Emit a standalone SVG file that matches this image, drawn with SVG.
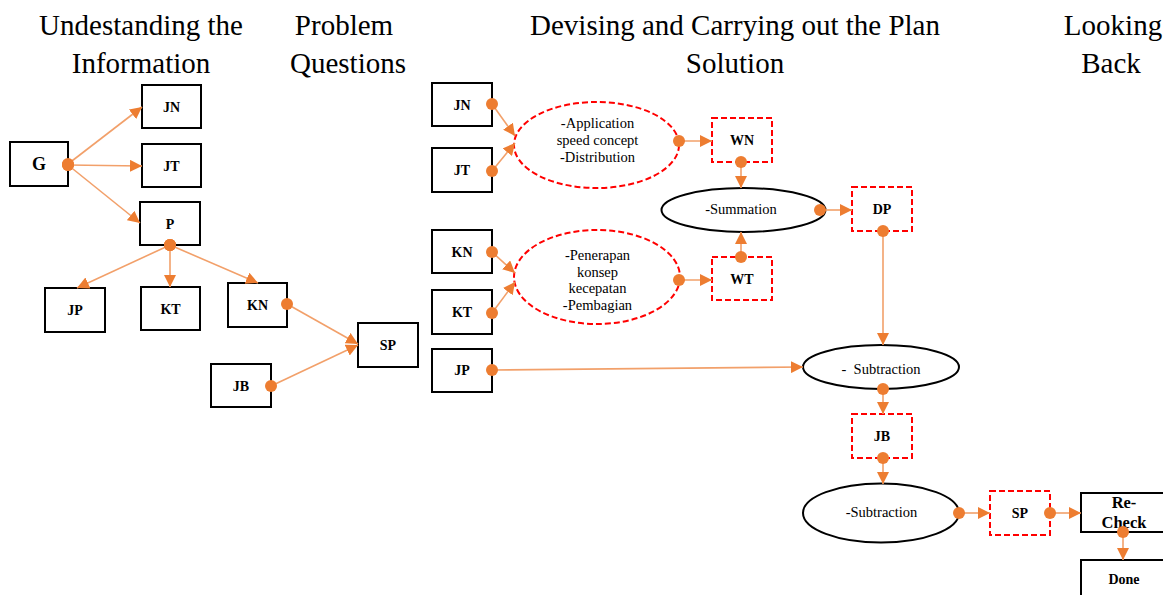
<svg xmlns="http://www.w3.org/2000/svg" width="1163" height="595" viewBox="0 0 1163 595">
  <style>
    .title { font-family: "Liberation Serif", "Times New Roman", serif; font-size: 29px; fill: #000; text-anchor: middle; }
    .box { fill: #fff; stroke: #000; stroke-width: 2; }
    .dbox { fill: #fff; stroke: #ff0000; stroke-width: 2; stroke-dasharray: 6 3; }
    .oval { fill: #fff; stroke: #000; stroke-width: 2; }
    .doval { fill: #fff; stroke: #ff0000; stroke-width: 2; stroke-dasharray: 6 3; }
    .lbl { font-family: "Liberation Serif", "Times New Roman", serif; font-size: 14px; font-weight: bold; fill: #000; text-anchor: middle; }
    .txt { font-family: "Liberation Serif", "Times New Roman", serif; font-size: 14.5px; fill: #000; text-anchor: middle; }
    .link { fill: none; stroke: #F2A06A; stroke-width: 1.6; marker-start: url(#dot); marker-end: url(#arrow); }
  </style>
  <defs>
    <marker id="arrow" markerUnits="userSpaceOnUse" markerWidth="14" markerHeight="12" refX="12" refY="6" orient="auto">
      <path d="M0,0 L12,6 L0,12 Z" fill="#ED7D31"/>
    </marker>
    <marker id="dot" markerUnits="userSpaceOnUse" markerWidth="14" markerHeight="14" refX="7" refY="7">
      <circle cx="7" cy="7" r="6" fill="#ED7D31"/>
    </marker>
  </defs>
  <rect width="1163" height="595" fill="#fff"/>

  <!-- column headings -->
  <g id="headings">
    <text class="title" x="141" y="35">Undestanding the</text>
    <text class="title" x="141" y="73">Information</text>
    <text class="title" x="344" y="35">Problem</text>
    <text class="title" x="348" y="73">Questions</text>
    <text class="title" x="735" y="35">Devising and Carrying out the Plan</text>
    <text class="title" x="735" y="73">Solution</text>
    <text class="title" x="1113" y="35">Looking</text>
    <text class="title" x="1111" y="73">Back</text>
  </g>

  <!-- understanding the information -->
  <g id="node-G"><rect class="box" x="10" y="142" width="58" height="44"/><text class="lbl" x="39" y="170" style="font-size:18px">G</text></g>
  <g id="node-JN1"><rect class="box" x="142" y="85" width="59" height="43"/><text class="lbl" x="171.5" y="111.5">JN</text></g>
  <g id="node-JT1"><rect class="box" x="142" y="144" width="59" height="43"/><text class="lbl" x="171.5" y="170.5">JT</text></g>
  <g id="node-P"><rect class="box" x="140" y="202" width="60" height="43"/><text class="lbl" x="170" y="228.5">P</text></g>
  <g id="node-JP1"><rect class="box" x="45" y="288" width="60" height="44"/><text class="lbl" x="75" y="315">JP</text></g>
  <g id="node-KT1"><rect class="box" x="141" y="287" width="59" height="43"/><text class="lbl" x="170.5" y="313.5">KT</text></g>
  <g id="node-KN1"><rect class="box" x="228" y="283" width="59" height="44"/><text class="lbl" x="257.5" y="310">KN</text></g>
  <g id="node-JB1"><rect class="box" x="211" y="364" width="60" height="43"/><text class="lbl" x="241" y="391">JB</text></g>
  <g id="node-SP1"><rect class="box" x="358" y="323" width="60" height="44"/><text class="lbl" x="388" y="350">SP</text></g>

  <!-- plan: inputs -->
  <g id="node-JN2"><rect class="box" x="432" y="83" width="60" height="43"/><text class="lbl" x="462" y="109.5">JN</text></g>
  <g id="node-JT2"><rect class="box" x="432" y="148" width="60" height="44"/><text class="lbl" x="462" y="175">JT</text></g>
  <g id="node-KN2"><rect class="box" x="432" y="230" width="60" height="43"/><text class="lbl" x="462" y="256.5">KN</text></g>
  <g id="node-KT2"><rect class="box" x="432" y="290" width="60" height="44"/><text class="lbl" x="462" y="317">KT</text></g>
  <g id="node-JP2"><rect class="box" x="432" y="349" width="60" height="43"/><text class="lbl" x="462" y="374.5">JP</text></g>

  <!-- plan: operations -->
  <g id="node-speed-en">
    <ellipse class="doval" cx="596.5" cy="145" rx="82.5" ry="43"/>
    <text class="txt" x="597.5" y="128">-Application</text>
    <text class="txt" x="597.5" y="145">speed concept</text>
    <text class="txt" x="597.5" y="162">-Distribution</text>
  </g>
  <g id="node-speed-id">
    <ellipse class="doval" cx="597" cy="277" rx="83" ry="47"/>
    <text class="txt" x="597.5" y="260">-Penerapan</text>
    <text class="txt" x="597.5" y="276.5">konsep</text>
    <text class="txt" x="597.5" y="293">kecepatan</text>
    <text class="txt" x="597.5" y="310">-Pembagian</text>
  </g>
  <g id="node-WN"><rect class="dbox" x="712" y="118" width="60" height="44"/><text class="lbl" x="742" y="145">WN</text></g>
  <g id="node-WT"><rect class="dbox" x="712" y="257" width="60" height="43"/><text class="lbl" x="742" y="283.5">WT</text></g>
  <g id="node-summation">
    <ellipse class="oval" cx="743.5" cy="210" rx="82" ry="22"/>
    <text class="txt" x="741" y="214">-Summation</text>
  </g>
  <g id="node-DP"><rect class="dbox" x="852" y="187" width="60" height="44"/><text class="lbl" x="882" y="214">DP</text></g>
  <g id="node-subtraction1">
    <ellipse class="oval" cx="881" cy="367" rx="78" ry="22"/>
    <text class="txt" x="881" y="374" xml:space="preserve">-  Subtraction</text>
  </g>
  <g id="node-JB2"><rect class="dbox" x="852" y="414" width="60" height="44"/><text class="lbl" x="882" y="441">JB</text></g>
  <g id="node-subtraction2">
    <ellipse class="oval" cx="881" cy="513" rx="78" ry="29.5"/>
    <text class="txt" x="881.5" y="517">-Subtraction</text>
  </g>
  <g id="node-SP2"><rect class="dbox" x="990" y="491" width="60" height="44"/><text class="lbl" x="1020" y="518">SP</text></g>

  <!-- looking back -->
  <g id="node-recheck">
    <rect class="box" x="1081" y="493" width="100" height="39"/>
    <text class="lbl" x="1124" y="508" style="font-size:16.5px">Re-</text>
    <text class="lbl" x="1124" y="528" style="font-size:16.5px">Check</text>
  </g>
  <g id="node-done">
    <rect class="box" x="1081" y="560" width="100" height="50"/>
    <text class="lbl" x="1124" y="584">Done</text>
  </g>

  <!-- connectors: dot at the source, arrowhead at the target -->
  <g id="connectors">
    <line class="link" x1="68" y1="164" x2="142" y2="107"/>
    <line class="link" x1="68" y1="165" x2="142" y2="166"/>
    <line class="link" x1="68" y1="165" x2="140" y2="223"/>
    <line class="link" x1="170" y1="245" x2="77" y2="288"/>
    <line class="link" x1="170" y1="245" x2="170" y2="287"/>
    <line class="link" x1="170" y1="245" x2="258" y2="283"/>
    <line class="link" x1="287" y1="304" x2="358" y2="344"/>
    <line class="link" x1="271" y1="386" x2="358" y2="345"/>
    <line class="link" x1="492" y1="104" x2="515" y2="136"/>
    <line class="link" x1="492" y1="171" x2="515" y2="143"/>
    <line class="link" x1="492" y1="252" x2="515" y2="273"/>
    <line class="link" x1="492" y1="313" x2="515" y2="282"/>
    <line class="link" x1="679" y1="141" x2="712" y2="141"/>
    <line class="link" x1="679" y1="280" x2="712" y2="280"/>
    <line class="link" x1="741" y1="162" x2="741" y2="188"/>
    <line class="link" x1="741" y1="257" x2="741" y2="232"/>
    <line class="link" x1="820" y1="210" x2="852" y2="210"/>
    <line class="link" x1="883" y1="231" x2="883" y2="345"/>
    <line class="link" x1="492" y1="370" x2="803" y2="367"/>
    <line class="link" x1="883" y1="389" x2="883" y2="414"/>
    <line class="link" x1="883" y1="458" x2="883" y2="484"/>
    <line class="link" x1="959" y1="513" x2="990" y2="513"/>
    <line class="link" x1="1050" y1="513" x2="1081" y2="513"/>
    <line class="link" x1="1123" y1="532" x2="1123" y2="560"/>
  </g>
</svg>
